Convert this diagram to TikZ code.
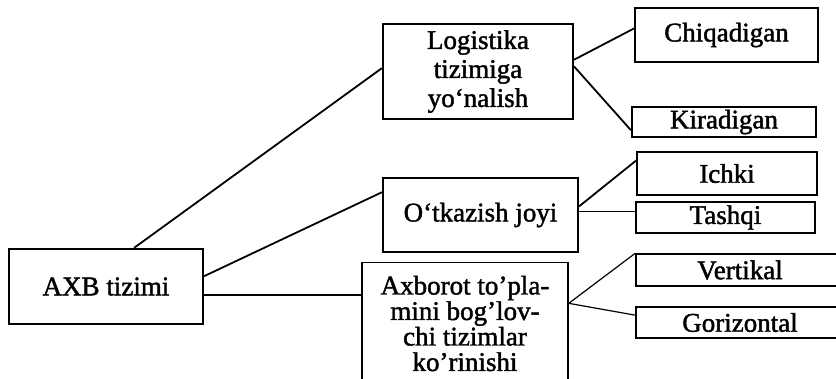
\documentclass[tikz,border=0pt]{standalone}
\usepackage{fontspec}
\setmainfont{Liberation Serif}[FakeBold=1.6]
\usetikzlibrary{positioning,calc}

\begin{document}
\begin{tikzpicture}[x=1pt, y=-1pt,
    box/.style={draw, line width=2.2pt, align=center, inner sep=2pt, font=\fontsize{27}{29}\selectfont},
    link/.style={line width=1.8pt}]
    \useasboundingbox (0,0) rectangle (836,378);
    \clip (0,0) rectangle (836,378);

    % Main box and second level
    \node[box, minimum width=194, minimum height=75] (axb) at (106,286.5) {AXB tizimi};
    \node[box, minimum width=190, minimum height=95] (logis) at (478,71.5) {Logistika\\tizimiga\\yo‘nalish};
    \node[box, minimum width=195, minimum height=74] (otk) at (480.5,215) {O‘tkazish joyi};
    \node[box, line width=1.5pt, minimum width=206, minimum height=122, font=\fontsize{27}{25.5}\selectfont] (axbo) at (465,323.5) {Axborot to’pla-\\mini bog’lov-\\chi tizimlar\\ko’rinishi};

    % Right column
    \node[box, minimum width=183, minimum height=54] (chiq) at (726.5,35) {Chiqadigan};
    \node[box, minimum width=184, minimum height=30] (kir) at (724,122) {Kiradigan};
    \node[box, minimum width=180, minimum height=43] (ichki) at (727,173.5) {Ichki};
    \node[box, line width=1.5pt, minimum width=179, minimum height=31] (tash) at (725.5,217.5) {Tashqi};
    \node[box, line width=1.5pt, minimum width=208, minimum height=32] (vert) at (740,270) {Vertikal};
    \node[box, line width=1.5pt, minimum width=208, minimum height=31] (gori) at (740,322.5) {Gorizontal};

    % Links
    \draw[link] (axb.54) -- (logis.178);
    \draw[link] (axb.6) -- (otk.167);
    \draw[link] (axb.-5) -- (axb.-5 -| axbo.west);
    \draw[link] (logis.7) -- (chiq.176);
    \draw[link] (logis.3) -- (kir.185);
    \draw[link] (otk.5) -- (ichki.172);
    \draw[link] (otk.2) -- (otk.2 -| tash.west);
    \draw[link, line width=1.2pt] (axbo.11) -- (vert.north west);
    \draw[link, line width=1.2pt] (axbo.11) -- (gori.176);
\end{tikzpicture}
\end{document}
